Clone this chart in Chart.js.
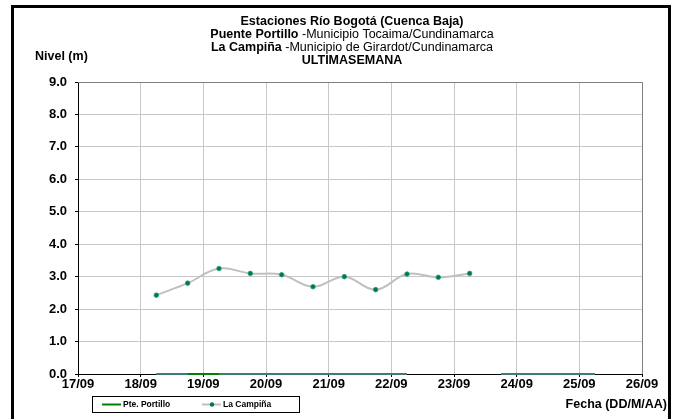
<!DOCTYPE html>
<html>
<head>
<meta charset="utf-8">
<script src="https://cdn.jsdelivr.net/npm/chart.js@4.4.1/dist/chart.umd.min.js"></script>
<style>
  html, body { margin: 0; padding: 0; background: #fff; }
  #wrap { width: 674px; height: 419px; }
</style>
</head>
<body>
<div id="wrap"><canvas id="chart" width="674" height="419"></canvas></div>
<script>
// --- Data ---
const xTicks = ['17/09', '18/09', '19/09', '20/09', '21/09', '22/09', '23/09', '24/09', '25/09', '26/09'];
const yTicks = [0, 1, 2, 3, 4, 5, 6, 7, 8, 9];

const campinaFechas = ['18/09 06:00', '18/09 18:00', '19/09 06:00', '19/09 18:00', '20/09 06:00', '20/09 18:00',
                       '21/09 06:00', '21/09 18:00', '22/09 06:00', '22/09 18:00', '23/09 06:00'];
const campinaNivel = [2.43, 2.80, 3.25, 3.10, 3.06, 2.69, 3.00, 2.60, 3.08, 2.98, 3.10];

const portilloFechas = ['18/09 18:00', '19/09 06:00'];
const portilloNivel = [0, 0];

// line at zero level (no legend entry)
const ceroFechas = ['18/09 06:00', '22/09 06:00', '23/09 00:00', '23/09 18:00', '25/09 06:00'];
const ceroNivel = [0, 0, null, 0, 0];

const titleLines = [
  [['Estaciones Río Bogotá (Cuenca Baja)', true]],
  [['Puente Portillo', true], [' -Municipio Tocaima/Cundinamarca', false]],
  [['La Campiña', true], [' -Municipio de Girardot/Cundinamarca', false]],
  [['ULTIMASEMANA', true]]
];

// days since 17/09 00:00
function toDays(s) {
  const [d, t] = s.split(' ');
  const dd = +d.split('/')[0];
  const [h, m] = t.split(':').map(Number);
  return (dd - 17) + (h + m / 60) / 24;
}
function points(fechas, vals) {
  return fechas.map((f, i) => ({ x: toDays(f), y: vals[i] }));
}

const FONT = '"Liberation Sans", Arial, sans-serif';

// --- Decorations: frame, title, axis names, legend ---
const decor = {
  id: 'decor',
  afterDraw(chart) {
    const ctx = chart.ctx;
    const a = chart.chartArea;
    ctx.save();
    // plot border top / right
    ctx.strokeStyle = '#808080';
    ctx.lineWidth = 1;
    ctx.beginPath();
    ctx.moveTo(a.left, a.top + 0.5);
    ctx.lineTo(a.right + 0.5, a.top + 0.5);
    ctx.lineTo(a.right + 0.5, a.bottom);
    ctx.stroke();

    // outer frame
    ctx.strokeStyle = '#000';
    ctx.lineWidth = 3;
    ctx.strokeRect(12.5, 6.5, 657, 440);

    // title
    ctx.fillStyle = '#000';
    ctx.textBaseline = 'middle';
    titleLines.forEach((parts, i) => {
      const y = 22 + i * 13;
      let total = 0;
      parts.forEach(p => {
        ctx.font = (p[1] ? 'bold ' : '') + '12.5px ' + FONT;
        total += ctx.measureText(p[0]).width;
      });
      let x = 352 - total / 2;
      ctx.textAlign = 'left';
      parts.forEach(p => {
        ctx.font = (p[1] ? 'bold ' : '') + '12.5px ' + FONT;
        ctx.fillText(p[0], x, y);
        x += ctx.measureText(p[0]).width;
      });
    });

    // axis names
    ctx.font = 'bold 12.5px ' + FONT;
    ctx.textAlign = 'left';
    ctx.fillText('Nivel (m)', 35, 57);
    ctx.textAlign = 'right';
    ctx.fillText('Fecha (DD/M/AA)', 667, 405);

    // legend box
    const lx = 92, ly = 396, lw = 207, lh = 16;
    ctx.strokeStyle = '#000';
    ctx.lineWidth = 1;
    ctx.strokeRect(lx + 0.5, ly + 0.5, lw, lh);
    const my = ly + lh / 2 + 0.5;
    ctx.font = 'bold 8.5px ' + FONT;
    ctx.textAlign = 'left';
    const items = [
      { ds: chart.data.datasets[0], x: 102 },
      { ds: chart.data.datasets[1], x: 202 }
    ];
    items.forEach(it => {
      ctx.strokeStyle = it.ds.borderColor;
      ctx.lineWidth = 2;
      ctx.beginPath();
      ctx.moveTo(it.x, my);
      ctx.lineTo(it.x + 19, my);
      ctx.stroke();
      if (it.ds.pointRadius > 0) {
        ctx.fillStyle = it.ds.pointBackgroundColor;
        ctx.beginPath();
        ctx.arc(it.x + 10, my, 2.2, 0, Math.PI * 2);
        ctx.fill();
      }
      ctx.fillStyle = '#000';
      ctx.fillText(it.ds.label, it.x + 21, my);
    });
    ctx.restore();
  }
};

new Chart(document.getElementById('chart').getContext('2d'), {
  type: 'line',
  data: {
    datasets: [
      {
        label: 'Pte. Portillo',
        data: points(portilloFechas, portilloNivel),
        borderColor: '#008000',
        borderWidth: 2,
        pointRadius: 0,
        clip: false,
        order: 1
      },
      {
        label: 'La Campiña',
        data: points(campinaFechas, campinaNivel),
        borderColor: '#c0c0c0',
        borderWidth: 2,
        tension: 0.4,
        pointRadius: 2.3,
        pointBackgroundColor: '#007a40',
        pointBorderColor: '#2a9d8f',
        pointBorderWidth: 0.8,
        order: 0
      },
      {
        label: '',
        data: points(ceroFechas, ceroNivel),
        borderColor: '#3f7a78',
        borderWidth: 2,
        pointRadius: 0,
        spanGaps: false,
        clip: false,
        order: 2
      }
    ]
  },
  options: {
    responsive: false,
    animation: false,
    layout: { padding: { top: 82, right: 32, left: 0, bottom: 0 } },
    plugins: {
      legend: { display: false },
      tooltip: { enabled: false }
    },
    scales: {
      x: {
        type: 'linear',
        min: 0,
        max: xTicks.length - 1,
        afterFit(scale) { scale.height = 45; },
        afterBuildTicks(scale) { scale.ticks = xTicks.map((t, i) => ({ value: i })); },
        ticks: {
          callback: v => xTicks[v],
          color: '#000',
          font: { family: FONT, size: 13, weight: 'bold' },
          padding: 0,
          maxRotation: 0,
          autoSkip: false
        },
        grid: { color: '#c8c8c8', tickColor: '#000', tickLength: 3, lineWidth: 1 },
        border: { color: '#000', width: 1 }
      },
      y: {
        min: yTicks[0],
        max: yTicks[yTicks.length - 1],
        afterFit(scale) { scale.width = 78; },
        afterBuildTicks(scale) { scale.ticks = yTicks.map(v => ({ value: v })); },
        ticks: {
          callback: v => v.toFixed(1),
          color: '#000',
          font: { family: FONT, size: 13, weight: 'bold' },
          padding: 8
        },
        grid: { color: '#c8c8c8', tickColor: '#000', tickLength: 3, lineWidth: 1 },
        border: { color: '#000', width: 1 }
      }
    }
  },
  plugins: [decor]
});
</script>
</body>
</html>
